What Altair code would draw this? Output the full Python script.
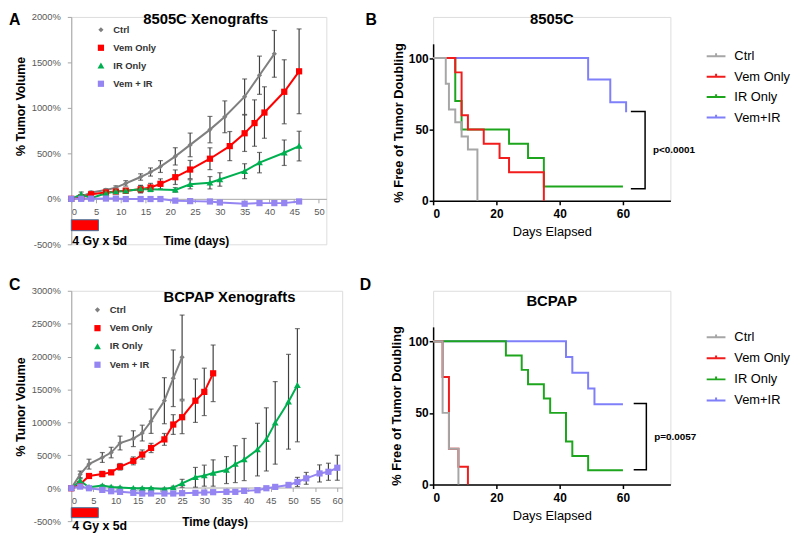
import json
import altair as alt
import pandas as pd

FONT = "Liberation Sans"

# ---------------- Panel A : 8505C xenografts (% tumor volume) ----------------
A_series = ["Ctrl", "Vem Only", "IR Only", "Vem + IR"]
A_ctrl_day = [0, 2, 4, 7, 9, 11, 14, 16, 18, 21, 24, 28, 31, 35, 38, 41]
A_ctrl_val = [0, 25, 70, 97, 123, 170, 240, 295, 355, 467, 593, 761, 902, 1123, 1359, 1594]
A_ctrl_err = [0, 15, 15, 15, 20, 30, 35, 45, 65, 95, 130, 145, 175, 195, 210, 257]
A_vem_day = [0, 2, 4, 7, 9, 11, 14, 16, 18, 21, 24, 28, 32, 35, 37, 39, 43, 46]
A_vem_val = [0, 15, 50, 70, 80, 90, 105, 125, 165, 238, 322, 441, 580, 721, 833, 949, 1177, 1402]
A_vem_err = [0, 10, 15, 15, 20, 25, 40, 45, 55, 80, 100, 120, 160, 200, 255, 283, 352, 466]
A_ir_day = [0, 2, 4, 7, 9, 11, 14, 16, 21, 24, 28, 30, 35, 38, 43, 46]
A_ir_val = [0, 50, 7, 62, 80, 87, 109, 105, 98, 160, 177, 213, 304, 398, 507, 580]
A_ir_err = [0, 25, 15, 20, 20, 25, 40, 20, 25, 50, 68, 74, 82, 112, 140, 163]
A_comb_day = [0, 2, 4, 7, 9, 11, 14, 16, 18, 21, 24, 28, 30, 35, 38, 41, 43, 46]
A_comb_val = [0, 0, 2, 3, 3, -2, -2, -2, -2, -20, -25, -29, -40, -54, -47, -47, -47, -29]
A_comb_err = [0, 0, 0, 0, 0, 0, 0, 0, 0, 0, 0, 0, 0, 0, 0, 0, 0, 0]

# ---------------- Panel C : BCPAP xenografts (% tumor volume) ----------------
C_series = ["Ctrl", "Vem Only", "IR Only", "Vem + IR"]
C_ctrl_day = [0, 2, 4, 7, 9, 11, 14, 16, 18, 21, 23, 25]
C_ctrl_val = [0, 211, 366, 467, 542, 687, 753, 838, 1018, 1330, 1671, 1991]
C_ctrl_err = [0, 50, 75, 75, 80, 105, 120, 120, 185, 350, 430, 640]
C_vem_day = [0, 2, 4, 7, 9, 11, 14, 16, 18, 21, 23, 25, 28, 30, 32]
C_vem_val = [0, 60, 186, 216, 241, 326, 416, 512, 612, 742, 968, 1079, 1330, 1464, 1746]
C_vem_err = [0, 20, 30, 40, 30, 50, 60, 70, 70, 90, 150, 250, 330, 360, 430]
C_ir_day = [0, 2, 4, 7, 9, 11, 14, 16, 18, 21, 23, 25, 28, 30, 32, 35, 37, 39, 42, 44, 46, 49, 51]
C_ir_val = [0, 115, 15, 40, 20, 10, 0, 0, 0, -10, 10, 75, 166, 191, 231, 276, 366, 436, 587, 742, 993, 1314, 1565]
C_ir_err = [0, 30, 10, 10, 10, 10, 10, 10, 10, 10, 20, 60, 150, 160, 200, 205, 280, 320, 400, 480, 627, 720, 860]
C_comb_day = [0, 2, 4, 7, 9, 11, 14, 16, 18, 21, 23, 25, 28, 30, 32, 35, 37, 39, 42, 44, 46, 49, 51, 53, 56, 58, 60]
C_comb_val = [0, 25, 0, -25, -45, -55, -70, -80, -80, -80, -80, -75, -70, -65, -60, -55, -55, -40, -30, 0, 20, 50, 95, 150, 225, 250, 311]
C_comb_err = [0, 0, 0, 0, 0, 0, 0, 0, 0, 0, 0, 0, 0, 0, 0, 0, 0, 0, 10, 20, 25, 35, 70, 90, 130, 130, 190]

# ---------------- Panel B : 8505C Kaplan-Meier (% free of tumor doubling) ----------------
B_series = ["Ctrl", "Vem Only", "IR Only", "Vem+IR"]
B_ctrl_day = [0, 4, 5, 7, 9, 11, 14]
B_ctrl_pct = [100, 82, 64, 55, 45, 36, 0]
B_vem_day = [0, 7, 9, 11, 16, 21, 24, 35]
B_vem_pct = [100, 90, 60, 50, 40, 30, 20, 0]
B_ir_day = [0, 7, 9, 24, 30, 35, 60]
B_ir_pct = [100, 70, 50, 40, 30, 10, 10]
B_comb_day = [0, 49, 56, 61]
B_comb_pct = [100, 85, 69, 62]
B_p_text = "p<0.0001"
B_bracket_day = [62.5, 67]
B_bracket_pct = [62.5, 8.5]

# ---------------- Panel D : BCPAP Kaplan-Meier ----------------
D_series = ["Ctrl", "Vem Only", "IR Only", "Vem+IR"]
D_ctrl_day = [0, 3, 5, 8]
D_ctrl_pct = [100, 50, 25, 0]
D_vem_day = [0, 3, 5, 8, 11]
D_vem_pct = [100, 75, 25, 12.5, 0]
D_ir_day = [0, 23, 28, 30, 35, 37, 42, 44, 49, 60]
D_ir_pct = [100, 90, 80, 70, 60, 50, 30, 20, 10, 10]
D_comb_day = [0, 42, 44, 49, 51, 60]
D_comb_pct = [100, 89, 78, 67, 56, 56]
D_p_text = "p=0.0057"
D_bracket_day = [63.4, 67.4]
D_bracket_pct = [56.5, 10.3]

# treatment schedule annotation (4 Gy x 5 d)
treat_label = "4 Gy x 5d"
A_treat_days = [0, 5.5]
A_treat_box = [-230, -350]
C_treat_days = [0, 6.1]
C_treat_box = [-296, -447]

# ---------------- styles ----------------
XL_LINE = ["#7F7F7F", "#FF0000", "#00B050", "#9485F2"]
XL_SHAPES = [
    "M0,-0.5L0.5,0L0,0.5L-0.5,0Z",
    "M-0.6,-0.6H0.6V0.6H-0.6Z",
    "M0,-0.62L0.66,0.52H-0.66Z",
    "M-0.6,-0.6H0.6V0.6H-0.6Z",
]
# legend glyphs: one closed outline = short line bar merged with the series marker
XL_LEGEND_GLYPHS = [
    "M-2,-0.18L-0.24,-0.18L0,-0.42L0.24,-0.18L2,-0.18L2,0.18L0.24,0.18L0,0.42L-0.24,0.18L-2,0.18Z",
    "M-2,-0.18L-0.55,-0.18L-0.55,-0.55L0.55,-0.55L0.55,-0.18L2,-0.18L2,0.18L0.55,0.18L0.55,0.55L-0.55,0.55L-0.55,0.18L-2,0.18Z",
    "M-2,-0.18L-0.237,-0.18L0,-0.6L0.237,-0.18L2,-0.18L2,0.18L0.44,0.18L0.62,0.5L-0.62,0.5L-0.44,0.18L-2,0.18Z",
    "M-2,-0.18L-0.55,-0.18L-0.55,-0.55L0.55,-0.55L0.55,-0.18L2,-0.18L2,0.18L0.55,0.18L0.55,0.55L-0.55,0.55L-0.55,0.18L-2,0.18Z",
]
KM_COLORS = ["#A6A6A6", "#F21C1C", "#1EA51E", "#7F7FFA"]
ERR = "#404040"
AX_GRAY = "#A6A6A6"
LBL_GRAY = "#595959"


def long_df(series, days, vals, errs=None):
    rows = []
    for i, s in enumerate(series):
        for j, d in enumerate(days[i]):
            r = {"series": s, "day": d, "value": vals[i][j], "k": j}
            if errs is not None:
                e = errs[i][j]
                r["lo"] = vals[i][j] - e
                r["hi"] = vals[i][j] + e
                r["err"] = e
            rows.append(r)
    return pd.DataFrame(rows)


def pick_expr(options, series):
    return f"{json.dumps(options)}[indexof({json.dumps(series)}, datum.value)]"


def text_layer(txt, x, y, size, weight="bold", align="left", baseline="top", color="black"):
    return alt.Chart(pd.DataFrame({"t": [txt]})).mark_text(
        font=FONT, fontSize=size, fontWeight=weight, align=align, baseline=baseline, color=color
    ).encode(text="t:N", x=alt.value(x), y=alt.value(y))


def excel_panel(series, days, vals, errs, xmax, ymin, ymax, width, height, yoffset,
                title, title_x, title_y, letter, letter_xy, leg_x, leg_y, leg_pad,
                xtitle_x, xtitle_y, ytitle_x, ytitle_y, treat_days, treat_box, treat_dy):
    df = long_df(series, days, vals, errs)
    xs = alt.Scale(domain=[0, xmax], nice=False, zero=False)
    ys = alt.Scale(domain=[ymin, ymax], nice=False, zero=False)
    xaxis = alt.Axis(values=list(range(0, int(xmax) + 1, 5)), tickCount=40, offset=yoffset,
                     grid=False, labelFont=FONT, labelFontSize=9.5, labelColor=LBL_GRAY,
                     labelPadding=4, labelOverlap=False, tickSize=4, tickColor=AX_GRAY,
                     domainColor=AX_GRAY,
                     title="Time (days)", titleFont=FONT, titleFontSize=12, titleFontWeight="bold",
                     titleColor="black", titleX=xtitle_x, titleY=xtitle_y,
                     titleBaseline="alphabetic", titleAlign="center", titleAngle=0)
    yaxis = alt.Axis(values=list(range(ymin, ymax + 1, 500)), tickCount=40,
                     labelExpr="datum.value + '%'",
                     grid=False, labelFont=FONT, labelFontSize=9.5, labelColor=LBL_GRAY,
                     labelPadding=7, labelOverlap=False, tickSize=4, tickColor=AX_GRAY,
                     domainColor=AX_GRAY,
                     title="% Tumor Volume", titleFont=FONT, titleFontSize=12.5,
                     titleFontWeight="bold", titleColor="black", titleX=ytitle_x, titleY=ytitle_y,
                     titleAngle=270, titleAlign="center", titleBaseline="middle")
    base = alt.Chart(df)
    ebars = alt.Chart(df[df["err"] > 0])
    rule = ebars.mark_rule(color=ERR, strokeWidth=1.2).encode(
        x=alt.X("day:Q", scale=xs, axis=xaxis), y=alt.Y("lo:Q", scale=ys, axis=yaxis), y2="hi:Q")
    cap_lo = ebars.mark_tick(color=ERR, orient="horizontal", size=5, thickness=1.2).encode(
        x="day:Q", y="lo:Q")
    cap_hi = ebars.mark_tick(color=ERR, orient="horizontal", size=5, thickness=1.2).encode(
        x="day:Q", y="hi:Q")
    line = base.mark_line(strokeWidth=2).encode(
        x="day:Q", y="value:Q", order="k:Q",
        stroke=alt.Stroke("series:N", scale=alt.Scale(domain=series, range=XL_LINE),
                          legend=alt.Legend(orient="none", legendX=leg_x, legendY=leg_y,
                                            title=None, padding=0, symbolSize=110,
                                            symbolType={"expr": pick_expr(XL_LEGEND_GLYPHS, series)},
                                            symbolFillColor={"expr": pick_expr(XL_LINE, series)},
                                            symbolStrokeColor={"expr": pick_expr(XL_LINE, series)},
                                            symbolStrokeWidth=0, labelFont=FONT,
                                            labelFontSize=9.5, labelFontWeight="bold",
                                            labelColor="#333333", labelOffset=7,
                                            rowPadding=leg_pad)))
    pts = base.mark_point(filled=True, size=110, opacity=1).encode(
        x="day:Q", y="value:Q",
        fill=alt.Fill("series:N", scale=alt.Scale(domain=series, range=XL_LINE), legend=None),
        shape=alt.Shape("series:N", scale=alt.Scale(domain=series, range=XL_SHAPES), legend=None))
    box_df = pd.DataFrame({"d0": [treat_days[0]], "d1": [treat_days[1]],
                           "v0": [treat_box[0]], "v1": [treat_box[1]]})
    box = alt.Chart(box_df).mark_rect(color="#FF0000", stroke="#41719C", strokeWidth=1).encode(
        x="d0:Q", x2="d1:Q", y="v0:Q", y2="v1:Q")
    treat_txt = alt.Chart(pd.DataFrame({"t": [treat_label], "d": [treat_days[0]], "v": [ymin]})).mark_text(
        font=FONT, fontSize=12.5, fontWeight="bold", align="left", baseline="alphabetic",
        dx=1, dy=treat_dy
    ).encode(text="t:N", x="d:Q", y="v:Q")
    ttl = text_layer(title, title_x, title_y, 15, align="center", baseline="alphabetic")
    let = text_layer(letter, letter_xy[0], letter_xy[1], 16)
    return alt.layer(rule, cap_lo, cap_hi, line, pts, box, treat_txt, ttl, let).properties(
        width=width, height=height)


def km_panel(series, days, pcts, width, height, ytop, title, title_x, title_y, letter, letter_xy,
             leg_x, leg_y, leg_pad, ytitle_x, ytitle_y, p_text, bracket_day, bracket_pct):
    df = long_df(series, days, pcts)
    order = {s: i for i, s in enumerate(series)}
    df["z"] = df["series"].map(lambda s: -order[s])
    df = df.sort_values(["z", "k"])
    xs = alt.Scale(domain=[0, 75], nice=False)
    ys = alt.Scale(domain=[0, 110], nice=False, range=[height, ytop])
    xaxis = alt.Axis(values=[0, 20, 40, 60], grid=False, labelFont=FONT, labelFontSize=12,
                     labelFontWeight="bold", labelColor="black", labelPadding=4,
                     tickSize=4, tickWidth=1.5, tickColor="black", domainColor="black", domainWidth=1.5,
                     title="Days Elapsed", titleFont=FONT, titleFontSize=13, titleFontWeight="normal",
                     titleColor="black", titleX=width / 2, titleY=35, titleBaseline="alphabetic",
                     titleAlign="center")
    yaxis = alt.Axis(values=[0, 50, 100], grid=False, labelFont=FONT, labelFontSize=12,
                     labelFontWeight="bold", labelColor="black", labelPadding=1,
                     tickSize=4, tickWidth=1.5, tickColor="black", domainColor="black", domainWidth=1.5,
                     title="% Free of Tumor Doubling", titleFont=FONT, titleFontSize=13,
                     titleFontWeight="bold", titleColor="black", titleX=ytitle_x, titleY=ytitle_y,
                     titleAngle=270, titleAlign="center", titleBaseline="middle")
    line = alt.Chart(df).mark_line(strokeWidth=2, interpolate="step-after").encode(
        x=alt.X("day:Q", scale=xs, axis=xaxis),
        y=alt.Y("value:Q", scale=ys, axis=yaxis),
        order="k:Q",
        stroke=alt.Stroke("series:N", scale=alt.Scale(domain=series, range=KM_COLORS),
                          legend=alt.Legend(orient="none", legendX=leg_x, legendY=leg_y, title=None,
                                            padding=0, symbolType="M-1,0H1M0,0V-0.3",
                                            symbolSize=361, symbolStrokeWidth=2, labelFont=FONT,
                                            labelFontSize=13, labelColor="black", labelOffset=8,
                                            rowPadding=leg_pad)))
    br_df = pd.DataFrame({"d": [bracket_day[0], bracket_day[1], bracket_day[1], bracket_day[0]],
                          "v": [bracket_pct[0], bracket_pct[0], bracket_pct[1], bracket_pct[1]],
                          "k": [0, 1, 2, 3]})
    bracket = alt.Chart(br_df).mark_line(color="black", strokeWidth=1.5).encode(
        x="d:Q", y="v:Q", order="k:Q")
    p_df = pd.DataFrame({"t": [p_text], "d": [bracket_day[1]],
                         "v": [(bracket_pct[0] + bracket_pct[1]) / 2]})
    ptxt = alt.Chart(p_df).mark_text(font=FONT, fontSize=10, fontWeight="bold", align="left",
                                     baseline="middle", dx=8).encode(text="t:N", x="d:Q", y="v:Q")
    ttl = text_layer(title, title_x, title_y, 15, align="center", baseline="alphabetic")
    let = text_layer(letter, letter_xy[0], letter_xy[1], 16)
    return alt.layer(line, bracket, ptxt, ttl, let).properties(width=width, height=height)


A = excel_panel(A_series, [A_ctrl_day, A_vem_day, A_ir_day, A_comb_day],
                [A_ctrl_val, A_vem_val, A_ir_val, A_comb_val],
                [A_ctrl_err, A_vem_err, A_ir_err, A_comb_err],
                xmax=51.5, ymin=-500, ymax=2000, width=258, height=230, yoffset=-46,
                title="8505C Xenografts", title_x=136, title_y=6.7, letter="A", letter_xy=(-63, -5.3),
                leg_x=24.5, leg_y=7.5, leg_pad=8.2, xtitle_x=126, xtitle_y=46,
                ytitle_x=-51, ytitle_y=90, treat_days=A_treat_days, treat_box=A_treat_box,
                treat_dy=1)

C = excel_panel(C_series, [C_ctrl_day, C_vem_day, C_ir_day, C_comb_day],
                [C_ctrl_val, C_vem_val, C_ir_val, C_comb_val],
                [C_ctrl_err, C_vem_err, C_ir_err, C_comb_err],
                xmax=61.1, ymin=-500, ymax=3000, width=274, height=233, yoffset=-34,
                title="BCPAP Xenografts", title_x=160, title_y=11, letter="C", letter_xy=(-63, -14),
                leg_x=21, leg_y=13.8, leg_pad=8.5, xtitle_x=145, xtitle_y=38,
                ytitle_x=-51, ytitle_y=117, treat_days=C_treat_days, treat_box=C_treat_box,
                treat_dy=9)

B = km_panel(B_series, [B_ctrl_day, B_vem_day, B_ir_day, B_comb_day],
             [B_ctrl_pct, B_vem_pct, B_ir_pct, B_comb_pct],
             width=240, height=186, ytop=27.2, title="8505C", title_x=120, title_y=7.4,
             letter="B", letter_xy=(-68.3, -5.3), leg_x=275.7, leg_y=29.2, leg_pad=2.7,
             ytitle_x=-35, ytitle_y=106.7, p_text=B_p_text, bracket_day=B_bracket_day,
             bracket_pct=B_bracket_pct)

D = km_panel(D_series, [D_ctrl_day, D_vem_day, D_ir_day, D_comb_day],
             [D_ctrl_pct, D_vem_pct, D_ir_pct, D_comb_pct],
             width=240, height=196, ytop=36.5, title="BCPAP", title_x=120, title_y=15,
             letter="D", letter_xy=(-74.3, -14), leg_x=275.7, leg_y=36.5, leg_pad=3.3,
             ytitle_x=-37, ytitle_y=116, p_text=D_p_text, bracket_day=D_bracket_day,
             bracket_pct=D_bracket_pct)

indep = dict(stroke="independent", fill="independent", shape="independent",
             x="independent", y="independent")

row1 = alt.hconcat(A, B, spacing=38).resolve_scale(**indep)
row2 = alt.hconcat(C, D, spacing=16).resolve_scale(**indep)

chart = alt.vconcat(row1, row2, spacing=27).resolve_scale(**indep).properties(
    padding={"left": 0, "top": 0, "right": 0, "bottom": 0}
).configure_view(stroke=None).configure(background="white")

chart.save("out.html", embed_options={"renderer": "svg", "actions": False})
